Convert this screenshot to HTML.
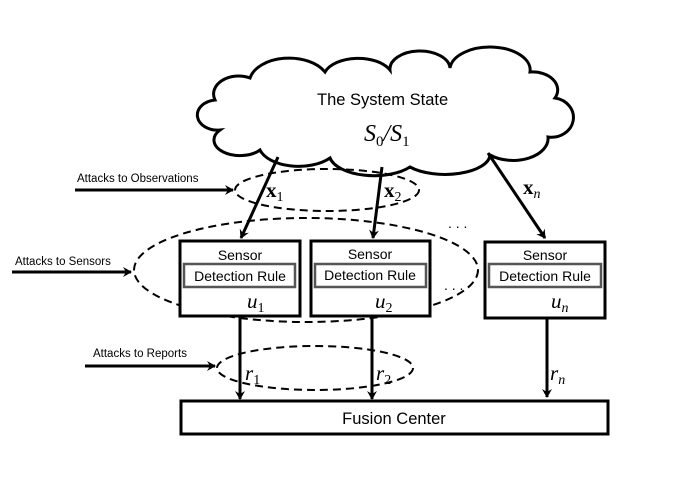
<!DOCTYPE html>
<html><head><style>body{margin:0;background:#fff}svg{display:block}</style></head><body>
<svg width="674" height="503" viewBox="0 0 674 503" xmlns="http://www.w3.org/2000/svg" font-family="Liberation Sans, sans-serif">
<defs><marker id="a" markerWidth="10" markerHeight="10" refX="8" refY="5" orient="auto" markerUnits="userSpaceOnUse"><path d="M0,0 L9,5 L0,10 L3,5 Z" fill="#000"/></marker></defs>
<path d="M215,100 A25,18 0 0,1 250,78 A40,25 0 0,1 325,72 A35,20 0 0,1 390,70 A30,18 0 0,1 450,68 A35,20 0 0,1 530,72 A25,18 0 0,1 555,98 A20,18 0 0,1 548,137 A35,22 0 0,1 490,155 A45,20 0 0,1 410,167 A45,22 0 0,1 330,158 A40,22 0 0,1 260,150 A25,15 0 0,1 220,130 A20,15 0 0,1 215,100 Z" fill="#fff" stroke="#000" stroke-width="3"/>
<text x="317" y="105" font-size="16.5">The System State</text>
<text x="364" y="141" font-size="24" font-family="Liberation Serif, serif" font-style="italic">S<tspan font-size="15" dy="5" font-style="normal">0</tspan><tspan dy="-5">/S</tspan><tspan font-size="15" dy="5" font-style="normal">1</tspan></text>
<g fill="none" stroke="#000" stroke-width="2" stroke-dasharray="8,5">
<ellipse cx="327" cy="190" rx="92" ry="21"/>
<ellipse cx="306" cy="270" rx="172" ry="52"/>
<ellipse cx="315" cy="368" rx="98" ry="22"/>
</g>
<g stroke="#000" stroke-width="3" fill="none">
<line x1="278" y1="157" x2="241" y2="238" marker-end="url(#a)"/>
<line x1="382" y1="167" x2="373" y2="238" marker-end="url(#a)"/>
<line x1="488" y1="153" x2="545" y2="238" marker-end="url(#a)"/>
<line x1="240" y1="287" x2="240" y2="316" marker-end="url(#a)"/>
<line x1="372" y1="287" x2="372" y2="316" marker-end="url(#a)"/>
<line x1="547" y1="288" x2="547" y2="316" marker-end="url(#a)"/>
<line x1="240" y1="316" x2="240" y2="399" marker-end="url(#a)"/>
<line x1="372" y1="316" x2="372" y2="399" marker-end="url(#a)"/>
<line x1="547" y1="318" x2="547" y2="397" marker-end="url(#a)"/>
<line x1="75" y1="190" x2="233" y2="190" marker-end="url(#a)"/>
<line x1="12" y1="272" x2="131" y2="272" marker-end="url(#a)"/>
<line x1="85" y1="366" x2="215" y2="366" marker-end="url(#a)"/>
</g>
<g fill="#fff" stroke="#000" stroke-width="3">
<rect x="180" y="241" width="120" height="75"/>
<rect x="311" y="241" width="119" height="75"/>
<rect x="485" y="242" width="120" height="76"/>
<rect x="181" y="401" width="427" height="33"/>
</g>
<g fill="#fff" stroke="#555" stroke-width="2.5">
<rect x="184" y="264" width="111" height="23"/>
<rect x="315" y="264" width="111" height="23"/>
<rect x="489" y="264" width="112" height="23"/>
</g>
<g font-size="14" text-anchor="middle">
<text x="240" y="260">Sensor</text><text x="370" y="259">Sensor</text><text x="545" y="260">Sensor</text>
<text x="240" y="281">Detection Rule</text><text x="370" y="280">Detection Rule</text><text x="545" y="281">Detection Rule</text>
<text x="394" y="424" font-size="16.5">Fusion Center</text>
</g>
<g font-size="11.5">
<text x="77" y="182">Attacks to Observations</text>
<text x="15" y="265">Attacks to Sensors</text>
<text x="93" y="357">Attacks to Reports</text>
</g>
<g font-family="Liberation Serif, serif" font-size="21" font-style="italic">
<text x="247" y="308">u<tspan font-size="14" dy="4" font-style="normal">1</tspan></text>
<text x="375" y="308">u<tspan font-size="14" dy="4" font-style="normal">2</tspan></text>
<text x="551" y="308">u<tspan font-size="14" dy="4">n</tspan></text>
<text x="245" y="380">r<tspan font-size="14" dy="4" font-style="normal">1</tspan></text>
<text x="376" y="380">r<tspan font-size="14" dy="4" font-style="normal">2</tspan></text>
<text x="550" y="380">r<tspan font-size="14" dy="4">n</tspan></text>
</g>
<g font-family="Liberation Serif, serif" font-size="21" font-weight="bold">
<text x="266" y="197">x<tspan font-size="14" dy="4" font-weight="normal">1</tspan></text>
<text x="384" y="197">x<tspan font-size="14" dy="4" font-weight="normal">2</tspan></text>
<text x="523" y="194">x<tspan font-size="14" dy="4" font-weight="normal" font-style="italic">n</tspan></text>
</g>
<text x="448" y="228" font-size="14">. . .</text>
<text x="444" y="290" font-size="14">. . .</text>
</svg>
</body></html>
